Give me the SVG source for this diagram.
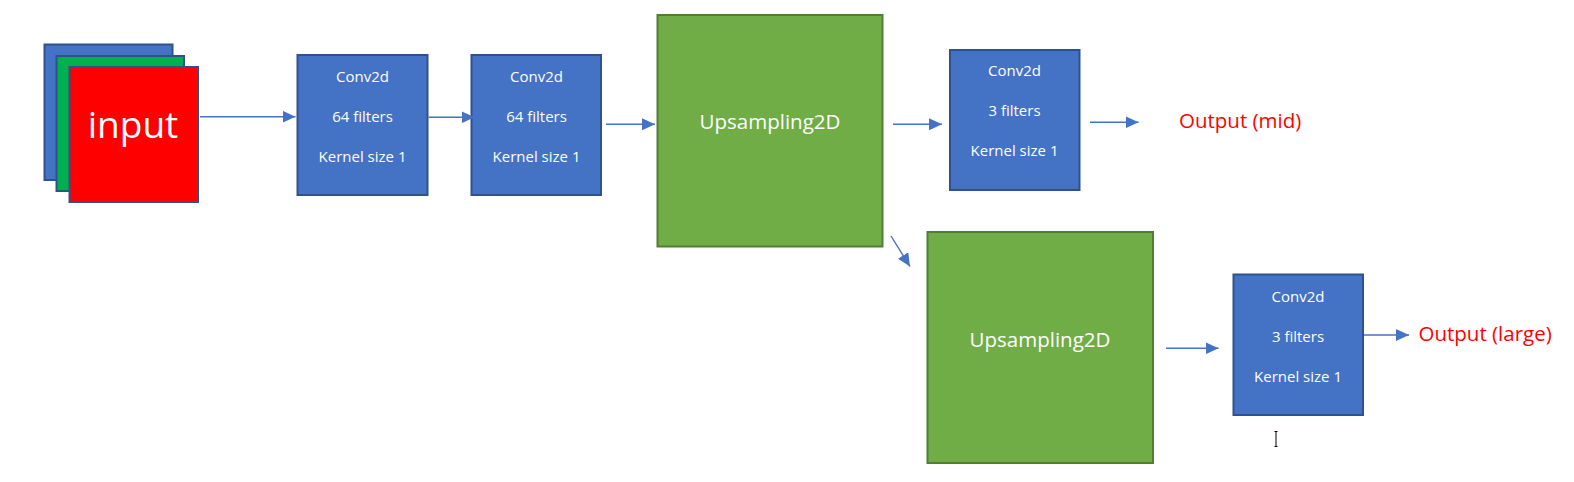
<svg xmlns="http://www.w3.org/2000/svg" width="1574" height="482" viewBox="0 0 1574 482">
<style>
.conv{fill:#4472C4;stroke:#2F528F;stroke-width:2}
.ups{fill:#70AD47;stroke:#507E32;stroke-width:2}
.t{font-family:"Open Sans","Noto Sans",sans-serif;fill:#FFFFFF;text-anchor:middle}
.s{font-size:15px}
.u{font-size:20.5px}
.out{font-family:"Open Sans","Noto Sans",sans-serif;fill:#FF0000;font-size:20.5px}
.c{stroke:#4472C4;stroke-width:1.4;fill:none;marker-end:url(#ah)}
</style>
<defs>
<marker id="ah" markerUnits="userSpaceOnUse" markerWidth="14" markerHeight="12" refX="13" refY="6" orient="auto">
<path d="M0,0 L13,6 L0,12 Z" fill="#4472C4"/>
</marker>
</defs>
<g id="input">
<rect x="44.5" y="44.5" width="128" height="135.5" fill="#4472C4" stroke="#2F528F" stroke-width="2"/>
<rect x="56.5" y="56" width="127.5" height="135" fill="#00B050" stroke="#2F528F" stroke-width="2"/>
<rect x="69.5" y="67" width="128.5" height="135" fill="#FF0000" stroke="#2F528F" stroke-width="2"/>
<text class="t" x="133" y="137.5" font-size="37">input</text>
</g>
<g id="conv1">
<rect class="conv" x="297.5" y="55" width="130" height="140"/>
<text class="t s" x="362.5" y="81.5">Conv2d</text>
<text class="t s" x="362.5" y="121.5">64 filters</text>
<text class="t s" x="362.5" y="161.5">Kernel size 1</text>
</g>
<g id="conv2">
<rect class="conv" x="471.5" y="55" width="129.5" height="140"/>
<text class="t s" x="536.5" y="81.5">Conv2d</text>
<text class="t s" x="536.5" y="121.5">64 filters</text>
<text class="t s" x="536.5" y="161.5">Kernel size 1</text>
</g>
<g id="ups1">
<rect class="ups" x="657.5" y="15" width="225" height="231.5"/>
<text class="t u" x="770" y="129">Upsampling2D</text>
</g>
<g id="conv3">
<rect class="conv" x="950" y="50" width="129.5" height="140"/>
<text class="t s" x="1014.5" y="76">Conv2d</text>
<text class="t s" x="1014.5" y="116">3 filters</text>
<text class="t s" x="1014.5" y="156">Kernel size 1</text>
</g>
<g id="out_mid">
<text class="out" x="1179" y="127.5">Output (mid)</text>
</g>
<g id="ups2">
<rect class="ups" x="927.5" y="232" width="225.5" height="231"/>
<text class="t u" x="1040" y="346.5">Upsampling2D</text>
</g>
<g id="conv4">
<rect class="conv" x="1233.5" y="274.5" width="129.5" height="140.5"/>
<text class="t s" x="1298" y="301.5">Conv2d</text>
<text class="t s" x="1298" y="341.5">3 filters</text>
<text class="t s" x="1298" y="381.5">Kernel size 1</text>
</g>
<g id="out_large">
<text class="out" x="1418.5" y="341" font-size="21">Output (large)</text>
</g>
<g id="connectors">
<line class="c" x1="200" y1="116.7" x2="295.5" y2="116.7"/>
<line class="c" x1="428.5" y1="117.3" x2="474.5" y2="117.3"/>
<line class="c" x1="606" y1="124.3" x2="655" y2="124.3"/>
<line class="c" x1="893" y1="124.3" x2="942" y2="124.3"/>
<line class="c" x1="1090" y1="122.3" x2="1138.5" y2="122.3"/>
<line class="c" x1="891" y1="236" x2="910" y2="266.5"/>
<line class="c" x1="1166" y1="348.3" x2="1218.5" y2="348.3"/>
<line class="c" x1="1364" y1="335" x2="1409" y2="335"/>
</g>
<g id="cursor" stroke="#000" stroke-width="1" fill="none">
<path d="M1274.5,431.5 H1277.5 M1276,431.5 V446.5 M1274.5,446.5 H1277.5"/>
</g>
</svg>
